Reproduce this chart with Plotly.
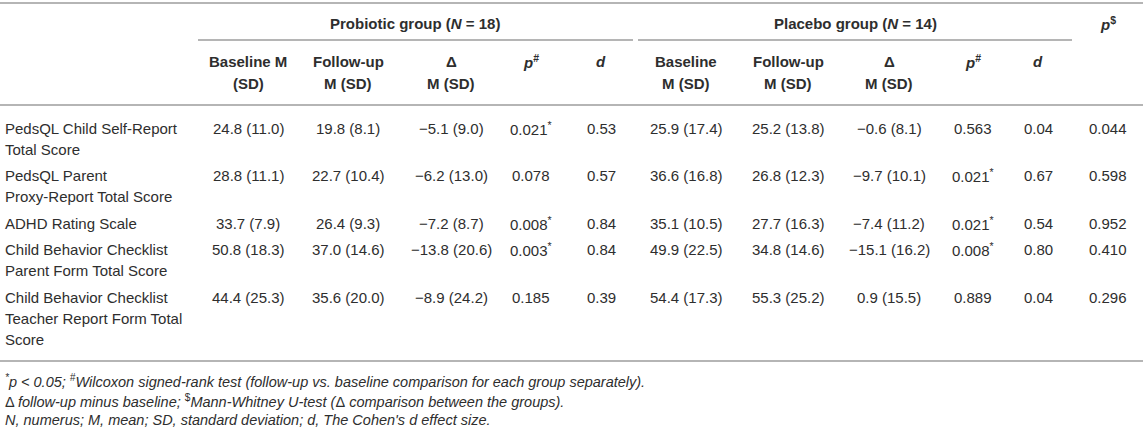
import plotly.graph_objects as go

# table content
measures = ["PedsQL Child Self-Report<br>Total Score",
            "PedsQL Parent<br>Proxy-Report Total Score",
            "ADHD Rating Scale",
            "Child Behavior Checklist<br>Parent Form Total Score",
            "Child Behavior Checklist<br>Teacher Report Form Total<br>Score"]

pro_baseline = ["24.8 (11.0)", "28.8 (11.1)", "33.7 (7.9)", "50.8 (18.3)", "44.4 (25.3)"]
pro_followup = ["19.8 (8.1)", "22.7 (10.4)", "26.4 (9.3)", "37.0 (14.6)", "35.6 (20.0)"]
pro_delta = ["−5.1 (9.0)", "−6.2 (13.0)", "−7.2 (8.7)", "−13.8 (20.6)", "−8.9 (24.2)"]
pro_p = ["0.021*", "0.078", "0.008*", "0.003*", "0.185"]
pro_d = ["0.53", "0.57", "0.84", "0.84", "0.39"]

pla_baseline = ["25.9 (17.4)", "36.6 (16.8)", "35.1 (10.5)", "49.9 (22.5)", "54.4 (17.3)"]
pla_followup = ["25.2 (13.8)", "26.8 (12.3)", "27.7 (16.3)", "34.8 (14.6)", "55.3 (25.2)"]
pla_delta = ["−0.6 (8.1)", "−9.7 (10.1)", "−7.4 (11.2)", "−15.1 (16.2)", "0.9 (15.5)"]
pla_p = ["0.563", "0.021*", "0.021*", "0.008*", "0.889"]
pla_d = ["0.04", "0.67", "0.54", "0.80", "0.04"]

p_between = ["0.044", "0.598", "0.952", "0.410", "0.296"]

col_headers = ["Baseline M<br>(SD)", "Follow-up<br>M (SD)", "Δ<br>M (SD)", "<i>p</i><sup>#</sup>", "<i>d</i>",
               "Baseline<br>M (SD)", "Follow-up<br>M (SD)", "Δ<br>M (SD)", "<i>p</i><sup>#</sup>", "<i>d</i>"]

footnotes = ["<i><sup>*</sup>p < 0.05; <sup>#</sup>Wilcoxon signed-rank test (follow-up vs. baseline comparison for each group separately).</i>",
             "Δ <i>follow-up minus baseline; </i><sup>$</sup><i>Mann-Whitney U-test (</i>Δ<i> comparison between the groups).</i>",
             "<i>N, numerus; M, mean; SD, standard deviation; d, The Cohen's d effect size.</i>"]

# layout (pixels)
W, H = 1143, 430
col_x = [248, 348, 451, 531, 601, 686, 788, 889, 973, 1038, 1108]
line_h = 21
row_gap = 26.5
first_row_y = 128
txt = "#2e2e2e"
rule = "#b5b5b5"
font = "Arial, Liberation Sans, sans-serif"

columns = [pro_baseline, pro_followup, pro_delta, pro_p, pro_d,
           pla_baseline, pla_followup, pla_delta, pla_p, pla_d, p_between]

fig = go.Figure()
ann = []

def add(x, y, text, anchor="center", size=15, bold=False):
    if bold:
        text = "<b>" + text + "</b>"
    ann.append(dict(x=x, y=y, xref="x", yref="y", text=text, showarrow=False,
                    xanchor=anchor, yanchor="middle",
                    font=dict(family=font, size=size, color=txt)))

# group headers
add(415, 23, "Probiotic group (<i>N</i> = 18)", bold=True)
add(855, 23, "Placebo group (<i>N</i> = 14)", bold=True)
add(1108, 23, "<i>p</i><sup>$</sup>", bold=True)

# column headers
for x, h in zip(col_x, col_headers):
    for k, part in enumerate(h.split("<br>")):
        add(x, 61 + 22 * k, part, bold=True)

# body
y = first_row_y
for i, m in enumerate(measures):
    parts = m.split("<br>")
    for k, part in enumerate(parts):
        add(3, y + line_h * k, part, anchor="left")
    for x, col in zip(col_x, columns):
        v = col[i].replace("*", "<sup>*</sup>")
        add(x, y, v)
    y += line_h * (len(parts) - 1) + row_gap

# footnotes
for k, f in enumerate(footnotes):
    add(3, 381 + 19.5 * k, f, anchor="left", size=14.5)

# rules
def hline(x0, x1, yy):
    fig.add_shape(type="line", xref="x", yref="y", x0=x0, x1=x1, y0=yy, y1=yy,
                  line=dict(color=rule, width=2))

hline(0, W, 3)
hline(198, 633, 40)
hline(638, 1072, 40)
hline(0, W, 105)
hline(0, W, 361)

fig.update_layout(
    width=W, height=H,
    margin=dict(l=0, r=0, t=0, b=0),
    paper_bgcolor="white", plot_bgcolor="white",
    xaxis=dict(range=[0, W], visible=False, fixedrange=True),
    yaxis=dict(range=[H, 0], visible=False, fixedrange=True),
    annotations=ann,
    showlegend=False,
)

# page body has a default 8px margin; drop it so the figure fills the window
fig.write_html("out.html", config=dict(displayModeBar=False),
               post_script="document.body.style.margin='0px';document.body.style.overflow='hidden';")
